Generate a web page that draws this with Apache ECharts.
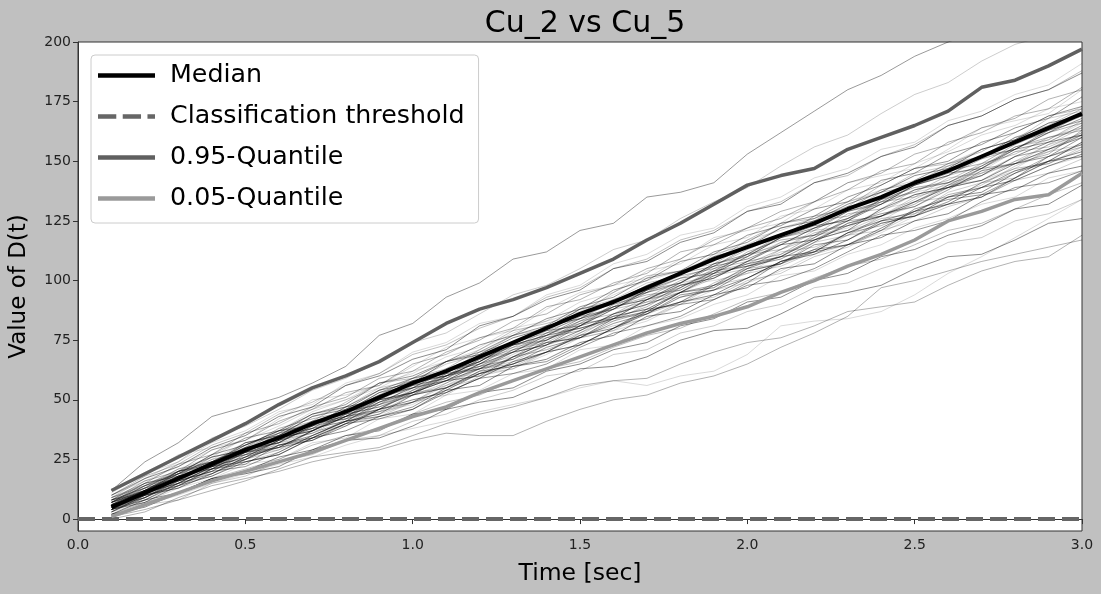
<!DOCTYPE html>
<html>
<head>
<meta charset="utf-8">
<script src="https://cdn.jsdelivr.net/npm/echarts@6/dist/echarts.min.js"></script>
<style>
  html, body { margin: 0; padding: 0; background: #c0c0c0; }
  #chart { width: 1101px; height: 594px; }
</style>
</head>
<body>
<div id="chart"></div>
<script>
// time steps (sec)
var times = [0.1, 0.2, 0.3, 0.4, 0.5, 0.6, 0.7, 0.8, 0.9, 1.0,
             1.1, 1.2, 1.3, 1.4, 1.5, 1.6, 1.7, 1.8, 1.9, 2.0,
             2.1, 2.2, 2.3, 2.4, 2.5, 2.6, 2.7, 2.8, 2.9, 3.0];

var median = [5, 11, 17, 23, 29, 34, 40, 45, 51, 57, 62, 68, 74, 80, 86,
              91, 97, 103, 109, 114, 119, 124, 130, 135, 141, 146, 152, 158, 164, 170];
var q95 = [12, 19, 26, 33, 40, 48, 55, 60, 66, 74, 82, 88, 92, 97, 103,
           109, 117, 124, 132, 140, 144, 147, 155, 160, 165, 171, 181, 184, 190, 197];
var q05 = [1, 6, 11, 16, 20, 24, 28, 33, 38, 43, 47, 53, 58, 63, 68,
           73, 78, 82, 85, 89, 95, 100, 106, 111, 117, 125, 129, 134, 136, 145];
var threshold = 0;

// individual D(t) runs
var runs = [
  [12,24,32,43,47,51,57,64,77,82,93,99,109,112,121,124,135,137,141,153,162,171,180,186,194,200,205,210,215,220],
  [9,17,24,34,39,46,54,59,66,74,78,86,94,98,105,113,117,126,133,139,148,156,161,170,178,183,192,199,203,210],
  [0,3,9,14,17,20,24,27,29,33,36,35,35,41,46,50,52,57,60,65,72,78,85,97,100,104,108,111,114,117],
  [2,6,10,15,19,23,26,31,35,38,41,45,48,51,55,58,56,60,62,69,81,83,84,87,94,103,110,118,126,134],
  [4,11,15,22,28,30,37,43,46,53,58,60,68,74,76,84,87,95,97,105,110,112,120,125,127,135,137,145,150,152],
  [6,12,19,23,30,36,40,45,52,55,63,68,72,79,84,91,95,101,106,113,119,124,131,134,142,149,152,160,165,172],
  [7,14,19,27,31,37,44,48,57,60,66,73,77,84,88,96,100,108,111,119,123,130,133,142,145,153,157,164,168,177],
  [5,8,15,18,25,31,33,40,43,49,52,60,63,70,73,80,84,91,93,100,103,110,114,121,125,131,135,142,145,151],
  [8,16,20,29,33,41,46,53,56,65,69,76,80,89,92,99,103,112,115,122,126,133,138,146,149,158,162,169,172,181],
  [3,7,13,17,23,25,32,34,42,44,52,54,61,63,71,73,81,84,90,94,102,104,111,115,122,126,132,135,143,146],
  [10,17,22,30,35,43,47,56,60,67,71,81,85,92,96,105,108,116,120,129,132,141,145,152,156,165,169,176,180,187],
  [6,10,16,20,28,32,39,42,50,53,61,64,71,75,83,86,93,97,105,108,116,119,128,130,138,142,149,153,160,164],
  [4,10,14,21,23,31,35,41,44,52,55,61,65,72,76,82,86,94,96,104,107,115,117,125,129,135,139,146,150,158],
  [7,13,20,24,32,35,43,47,55,58,65,69,77,80,88,92,99,102,111,115,122,126,133,137,145,148,155,159,168,171],
  [5,12,17,24,28,35,38,46,51,58,61,69,73,81,84,92,96,103,106,114,118,127,130,138,141,148,152,160,163,169],
  [9,13,21,26,34,37,45,50,57,61,68,72,80,83,91,95,104,107,115,118,127,130,138,141,149,154,161,165,172,175],
  [2,8,11,17,20,26,29,35,37,44,46,53,55,62,65,71,74,81,84,91,93,100,103,110,113,119,123,130,132,140],
  [6,14,17,24,28,36,39,47,50,58,61,70,74,81,85,92,95,104,107,115,119,125,129,137,140,147,151,158,162,170],
  [8,11,20,24,31,36,44,47,54,59,66,70,77,81,89,93,101,104,112,116,124,127,135,140,147,150,158,162,169,173],
  [3,10,14,21,25,32,34,42,45,52,56,63,66,73,77,85,88,95,98,106,110,117,121,127,131,139,142,150,154,161],
  [7,11,19,24,30,33,41,45,53,56,62,66,74,78,85,88,96,99,107,110,118,121,129,132,140,144,151,155,162,166],
  [11,19,24,32,37,45,48,57,61,70,74,82,85,94,98,107,111,119,122,131,135,143,147,155,158,167,171,178,182,191],
  [4,7,14,18,24,27,34,37,43,46,54,56,64,67,74,77,85,87,94,97,105,107,115,118,125,128,136,138,145,148],
  [6,12,16,23,27,34,37,45,48,56,59,67,70,78,82,89,93,100,104,111,115,122,126,134,137,144,148,156,159,167],
  [5,11,18,22,29,32,40,43,51,55,62,65,73,77,84,88,95,99,107,111,118,122,129,133,140,144,152,155,163,167],
  [1,6,8,15,18,24,27,33,35,41,44,50,54,60,62,69,71,78,81,87,90,97,99,105,109,116,118,125,128,134],
  [8,15,23,27,36,40,47,51,59,62,70,75,83,86,94,98,105,109,117,122,129,133,141,145,153,157,164,168,176,180],
  [4,11,15,22,26,33,37,44,47,54,58,65,68,76,79,86,90,98,101,108,111,119,122,130,133,140,144,152,155,162],
  [7,12,20,23,32,35,43,46,54,57,66,69,76,80,88,91,98,103,110,114,122,125,132,137,144,147,155,159,166,169],
  [10,18,23,31,36,44,49,56,61,69,73,80,85,93,97,105,109,117,121,129,133,141,144,152,157,165,169,176,180,188],
  [3,9,16,20,22,28,35,41,43,47,55,62,64,66,73,80,88,90,92,99,108,113,115,121,130,134,136,143,152,157],
  [6,10,13,21,28,31,33,40,48,53,55,59,68,74,76,79,87,95,98,101,107,116,119,121,128,137,141,143,150,158],
  [8,12,18,26,29,32,39,47,50,53,60,68,73,75,81,90,94,96,103,112,117,119,125,134,139,141,147,156,160,163],
  [5,13,17,19,26,34,37,39,46,55,59,61,68,76,80,83,90,98,100,103,111,119,121,125,133,140,142,147,155,161],
  [2,5,11,17,19,22,29,33,34,39,46,49,51,57,63,64,68,75,79,80,86,93,95,98,105,110,111,117,124,126],
  [9,15,19,27,34,37,41,49,57,59,63,71,79,82,86,95,102,104,108,117,124,126,131,140,147,149,154,162,169,172],
  [4,8,15,22,24,27,34,40,42,46,53,59,61,65,72,78,81,85,92,98,100,105,112,119,121,125,133,139,141,146],
  [7,14,20,22,29,37,40,42,50,57,60,63,71,78,80,84,92,99,102,105,113,121,123,127,135,143,145,149,157,164],
  [1,4,8,12,16,21,26,28,30,35,40,44,47,51,56,58,59,65,70,74,76,81,87,89,91,98,104,108,110,119],
  [12,18,27,30,33,42,50,52,56,64,72,76,79,88,95,98,101,109,118,121,124,133,141,144,147,155,164,167,170,180],
  [5,10,18,22,26,33,38,41,49,55,58,63,70,77,80,84,92,98,101,108,115,117,121,130,136,139,144,152,158,161],
  [6,13,16,21,29,35,38,44,50,53,59,67,71,74,81,89,92,96,104,111,113,118,126,133,135,139,147,154,156,162],
  [4,9,17,24,27,30,37,44,47,52,60,64,67,73,81,85,88,95,103,106,109,116,124,128,131,138,146,149,152,160],
  [7,11,15,23,30,32,36,43,50,52,57,64,70,73,78,86,91,93,98,106,112,114,119,127,133,135,140,148,154,157],
  [5,12,19,21,25,33,40,42,46,54,61,63,67,75,82,84,89,97,104,106,110,118,125,127,132,140,147,149,153,163],
  [8,13,17,25,32,34,38,46,52,55,60,67,73,76,82,90,95,98,103,110,116,119,125,133,137,140,146,154,159,166],
  [3,10,13,19,26,30,33,39,46,50,53,59,66,70,73,80,87,91,94,101,108,112,115,122,129,132,135,143,150,154],
  [6,9,16,23,25,29,37,43,45,49,57,63,65,70,78,84,86,91,99,105,107,112,120,126,128,133,141,147,149,155],
  [7,15,18,23,31,37,39,45,53,58,60,66,74,79,81,88,96,101,103,110,118,123,125,132,140,145,147,155,162,168],
  [4,8,14,21,24,28,35,41,44,49,56,61,64,70,77,81,84,90,98,103,106,112,119,124,127,133,141,146,149,156],
  [9,14,21,24,30,38,42,45,52,59,62,66,74,81,84,89,96,102,105,111,119,125,127,134,141,146,149,157,163,170],
  [5,11,14,20,27,29,34,41,45,48,55,61,63,69,76,79,83,90,96,99,104,111,115,120,127,132,135,142,148,152],
  [6,12,18,21,28,34,37,43,49,53,58,65,70,73,79,86,90,95,102,107,110,117,123,127,133,139,142,149,155,160],
  [2,7,11,17,21,25,31,35,38,44,49,52,58,63,66,72,77,80,86,92,95,101,106,109,115,121,124,130,136,141],
  [8,13,20,26,29,35,41,44,51,57,60,66,73,77,83,89,92,99,106,109,115,122,126,132,138,141,148,155,158,165],
  [6,11,17,24,28,32,39,45,48,54,60,63,69,76,79,85,92,95,101,108,111,117,124,127,134,141,144,150,157,161],
  [4,12,16,20,27,33,36,41,48,52,55,62,68,71,76,83,87,91,98,104,107,113,120,123,129,136,139,145,152,156],
  [10,16,22,29,33,39,46,50,55,62,66,71,78,83,87,94,100,104,110,117,121,126,133,138,142,149,155,159,166,173],
  [5,9,15,19,25,31,34,40,46,49,54,61,65,70,77,80,86,93,96,101,108,111,117,124,127,132,139,142,148,153],
  [7,12,19,25,28,34,40,43,50,56,59,65,72,75,81,88,91,97,104,107,113,120,123,129,136,139,145,152,155,161]
];

var xTicks = [0, 0.5, 1.0, 1.5, 2.0, 2.5, 3.0];
var yTicks = [0, 25, 50, 75, 100, 125, 150, 175, 200];

var FONT = "DejaVu Sans";

function toPoints(arr) {
  return arr.map(function (v, i) { return [times[i], v]; });
}

var myChart = echarts.init(document.getElementById("chart"), null, { renderer: "canvas" });

var series = [];
var alphas = [0.4, 0.2, 0.3, 0.15, 0.45, 0.25];
runs.forEach(function (r, i) {
  series.push({
    type: "line",
    data: toPoints(r),
    showSymbol: false,
    symbol: "none",
    silent: true,
    z: 1,
    lineStyle: { color: "#000", width: 1, opacity: alphas[i % alphas.length] }
  });
});

series.push({
  name: "Classification threshold",
  type: "line",
  data: [[xTicks[0], threshold], [xTicks[xTicks.length - 1], threshold]],
  symbol: "none",
  z: 3,
  itemStyle: { color: "#666" },
  lineStyle: { color: "#666", width: 4, type: [17, 7] }
});
series.push({
  name: "Median",
  type: "line",
  data: toPoints(median),
  symbol: "none",
  z: 5,
  itemStyle: { color: "#000" },
  lineStyle: { color: "#000", width: 4 }
});
series.push({
  name: "0.95-Quantile",
  type: "line",
  data: toPoints(q95),
  symbol: "none",
  z: 4,
  itemStyle: { color: "#606060" },
  lineStyle: { color: "#606060", width: 3.5 }
});
series.push({
  name: "0.05-Quantile",
  type: "line",
  data: toPoints(q05),
  symbol: "none",
  z: 4,
  itemStyle: { color: "#9a9a9a" },
  lineStyle: { color: "#9a9a9a", width: 3.5 }
});

var option = {
  backgroundColor: "#c0c0c0",
  animation: false,
  title: {
    text: "Cu_2 vs Cu_5",
    left: 580,
    textAlign: "center",
    top: 4,
    textStyle: { fontFamily: FONT, fontSize: 30, fontWeight: "normal", color: "#000" }
  },
  legend: {
    left: 91,
    top: 55,
    orient: "vertical",
    itemWidth: 57,
    itemHeight: 4.5,
    itemGap: 16,
    padding: [8, 14, 12, 7],
    backgroundColor: "rgba(255,255,255,0.8)",
    borderColor: "#cccccc",
    borderWidth: 1,
    borderRadius: 4,
    textStyle: { fontFamily: FONT, fontSize: 25.3, color: "#000", lineHeight: 24, padding: [0, 0, 0, 10] },
    data: [
      { name: "Median", icon: "rect" },
      { name: "Classification threshold", icon: "path://M0,0h17v4h-17z M23,0h17v4h-17z M46,0h7v4h-7z" },
      { name: "0.95-Quantile", icon: "rect" },
      { name: "0.05-Quantile", icon: "rect" }
    ]
  },
  grid: {
    left: 78,
    right: 19,
    top: 42,
    bottom: 63,
    show: true,
    backgroundColor: "#fff",
    borderColor: "#333",
    borderWidth: 1
  },
  xAxis: {
    type: "value",
    min: 0,
    max: 3,
    interval: 0.5,
    name: "Time [sec]",
    nameLocation: "middle",
    nameGap: 31,
    nameTextStyle: { fontFamily: FONT, fontSize: 23.5, color: "#000" },
    axisLine: { show: true, lineStyle: { color: "#333" } },
    axisTick: { show: true, length: 5, lineStyle: { color: "#333" } },
    axisLabel: {
      fontFamily: FONT, fontSize: 14, color: "#222", margin: 7,
      formatter: function (v) { return v.toFixed(1); }
    },
    splitLine: { show: false }
  },
  yAxis: {
    type: "value",
    min: -5,
    max: 200,
    name: "Value of D(t)",
    nameLocation: "middle",
    nameGap: 47,
    nameTextStyle: { fontFamily: FONT, fontSize: 23, color: "#000" },
    axisLine: { show: true, lineStyle: { color: "#333" } },
    axisTick: { show: true, length: 5, customValues: yTicks, lineStyle: { color: "#333" } },
    axisLabel: { fontFamily: FONT, fontSize: 14, color: "#222", margin: 7, customValues: yTicks },
    splitLine: { show: false }
  },
  series: series
};

myChart.setOption(option);
window.addEventListener("resize", function () {
  myChart.resize();
});
</script>
</body>
</html>
